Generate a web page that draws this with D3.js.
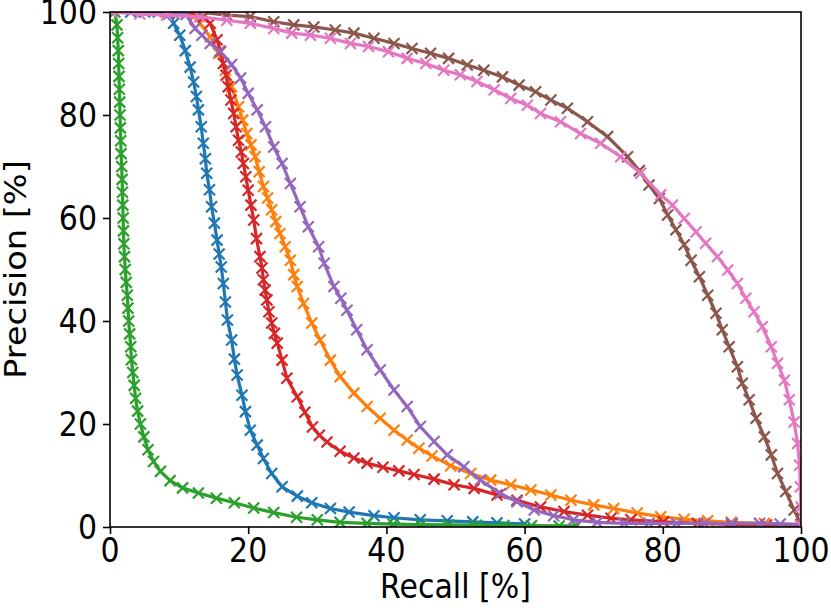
<!DOCTYPE html>
<html>
<head>
<meta charset="utf-8">
<script src="https://cdn.jsdelivr.net/npm/d3@7/dist/d3.min.js"></script>
<style>
  html, body { margin: 0; padding: 0; background: #fff; }
  svg { display: block; }
  text { font-family: "DejaVu Sans", sans-serif; fill: #000; }
</style>
</head>
<body>
<svg id="chart" width="831" height="608"></svg>
<script>
// ---- data: [recall %, precision %] ----
const xTicks = [0, 20, 40, 60, 80, 100];
const yTicks = [0, 20, 40, 60, 80, 100];
const xLabel = "Recall [%]";
const yLabel = "Precision [%]";

const seriesBlue = [[3,100],[5,100],[7,100],[8.5,99.6],[9.2,97.8],[10.1,95.5],[10.9,92.5],[11.6,89.3],[12.1,86.4],[12.5,83.6],[12.8,81],[13.2,77.7],[13.5,74.5],[13.8,71.5],[14.0,68.7],[14.4,65.5],[14.7,62.2],[15.1,59],[15.5,55.7],[15.8,53],[16.1,50.5],[16.4,47.3],[16.7,43.7],[17.0,40.2],[17.6,36.3],[18.0,32.6],[18.4,29.5],[19.1,25.6],[19.6,22.4],[20.3,18.8],[21.3,15.9],[22.2,13.3],[23.4,10.4],[24.9,7.8],[27.1,6.0],[29.2,4.7],[31.9,3.6],[34.6,2.9],[38.2,2.2],[41.1,1.8],[44.9,1.4],[48.8,1.2],[52.5,1.0],[56,0.8],[60,0.6]];
const seriesOrange = [[8,100],[10.5,99.9],[12.2,99.2],[13,97.8],[14.5,95.2],[15.7,92],[16.7,88.7],[17.6,85.5],[18.6,81.6],[19.2,79],[19.8,76.4],[20.4,74.2],[21,71.9],[21.6,69],[22.2,66.1],[22.8,63.9],[23.4,61.6],[24.0,59.3],[24.6,57],[25.35,54.4],[26.1,51.8],[26.6,49],[27.1,46.7],[28,43.4],[29.2,39.6],[30.4,36.3],[31.9,32.4],[33.3,29.2],[35.3,26],[37.2,23.4],[39.1,21.1],[41.1,18.8],[43,16.9],[44.7,15.3],[46.6,13.8],[49.3,11.9],[52.2,10.4],[55.1,9.1],[58,8.2],[60.9,7.2],[63.8,6.2],[66.7,5.2],[70,4.3],[72.9,3.6],[76.3,2.7],[79.7,2.0],[83.1,1.5],[86.5,1.2],[89.9,0.9],[94.7,0.7],[100,0.4]];
const seriesGreen = [[0.7,100],[1.0,97.5],[1.1,95],[1.2,92.5],[1.25,90],[1.3,87.5],[1.35,85],[1.4,82.5],[1.45,80],[1.5,77.5],[1.55,75],[1.6,72.5],[1.7,70],[1.75,67.5],[1.8,65],[1.85,62.5],[1.9,60],[1.95,57.5],[2.0,55],[2.1,52.5],[2.2,50],[2.35,47.5],[2.5,45],[2.6,42.5],[2.7,40],[2.85,37.5],[3.0,35],[3.1,32.5],[3.3,30],[3.5,27.5],[3.7,25],[4.0,22.5],[4.4,20],[4.9,17.5],[5.5,15],[6.3,12.7],[7.3,10.8],[8.7,9],[10.5,7.6],[12.8,6.6],[15.4,5.6],[18,4.7],[20.8,3.7],[23.7,2.8],[27,1.9],[30,1.4],[33.3,0.9],[37.2,0.7],[41,0.55],[45,0.45],[49,0.4],[53,0.35],[57,0.3],[61,0.25],[65,0.2],[67.5,0.2]];
const seriesRed = [[10,100],[12,99.8],[13.5,99],[14.5,97.8],[15.5,94.6],[16.0,92.3],[16.4,90],[16.8,87.7],[17.1,85.5],[17.5,82.9],[17.9,80.3],[18.25,77.7],[18.6,75.1],[19.0,72.8],[19.3,70.6],[19.65,68],[20.0,65.4],[20.4,62.5],[20.8,59.6],[21.2,56],[21.7,52.5],[22.0,50.3],[22.2,48],[22.45,46],[22.7,44.1],[23.0,41.8],[23.4,39.6],[23.8,37.6],[24.2,35.7],[24.9,32.4],[25.6,28.9],[27.1,25.3],[28.2,22.3],[29.3,19.4],[30.3,17.8],[31.4,16.5],[33.3,14.7],[35.3,13.4],[37.2,12.4],[39.5,11.6],[41.8,10.9],[44,10.2],[46.9,9.3],[49.8,8.2],[52.7,7.5],[56,6.2],[58.9,5.2],[62.3,3.9],[65.7,3.0],[69.1,2.3],[72.5,1.7],[75.4,1.4],[80.1,1.0],[85,0.7],[90,0.5],[95,0.4],[100,0.3]];
const seriesPurple = [[9,100],[11,99.5],[12.3,96.8],[13.3,95.5],[14.5,93.9],[15.9,92.4],[17.6,89.8],[18.9,87.2],[20,84.2],[21.3,81],[22.5,77.7],[23.7,73.8],[24.9,70.6],[26.1,66.7],[27.5,62.2],[28.7,58.3],[30.2,54.4],[31.0,51.2],[32.4,46.7],[33.4,44.4],[34.3,42.1],[35.7,38.3],[37.2,34.4],[39.1,30.5],[41.1,26.6],[43,23.4],[44.9,19.5],[46.9,16.6],[48.8,14.0],[51.2,11.7],[53.6,9.1],[56.5,6.5],[58.9,4.9],[61.4,3.3],[64.2,2.2],[67.1,1.4],[70.5,0.9],[74.4,0.7],[78,0.7],[82,0.7],[86,0.7],[90,0.7],[94,0.7],[97,0.6],[100,0.5]];
const seriesBrown = [[13,100],[16.9,99.4],[20.3,99.1],[23.7,98.1],[26.6,97.5],[29.5,97.1],[32.6,96.5],[35.3,95.9],[38.2,94.9],[41.1,93.9],[43.7,92.9],[46.4,92],[49,91],[51.7,89.7],[54.1,88.7],[56.8,87.4],[59.2,85.8],[61.6,84.5],[63.8,82.9],[66.2,81.3],[69.1,78.7],[72,75.8],[74.9,71.9],[76.6,69.2],[78.0,66.4],[79.5,63.8],[80.7,60.6],[81.9,57.7],[83.1,54.8],[84.1,51.8],[85.3,48.6],[86.5,45],[87.7,41.5],[88.6,38.3],[89.6,35],[90.8,31.1],[91.5,27.9],[92.5,24.7],[93.5,21.1],[94.7,17.5],[95.7,14],[96.6,10.4],[97.8,6.9],[99,3.3],[100,0.5]];
const seriesPink = [[0.3,100],[4.3,99.6],[8.2,99.4],[13,99.1],[16.9,98.4],[20.3,97.8],[23.7,96.8],[26.3,95.9],[29,95.5],[31.9,94.9],[34.8,93.9],[37.4,93.3],[40.3,92.3],[43,91],[45.7,90],[48.3,88.7],[50.7,87.8],[53.1,86.5],[55.6,84.9],[58,83.2],[60.4,81.9],[62.3,80.3],[65.2,78.7],[68.1,76.4],[71,74.5],[73.9,71.9],[76.8,68.7],[79.7,64.5],[81.4,62.5],[83.1,59.9],[84.8,57.3],[86.2,55.1],[87.9,52.5],[89.4,49.9],[90.8,47.3],[92,44.4],[93.2,41.8],[94.4,38.9],[95.7,35],[96.6,31.8],[97.6,28.5],[98.3,24.7],[99,20.4],[99.5,16.2],[99.8,12],[99.9,7.8],[100,3.9],[100,0.3]];

const seriesList = [seriesBlue, seriesOrange, seriesGreen, seriesRed, seriesPurple, seriesBrown, seriesPink];
const colors = ["#1f77b4", "#ff7f0e", "#2ca02c", "#d62728", "#9467bd", "#8c564b", "#e377c2"];

(function () {
  const svg = d3.select("#chart");
  const pL = 110, pR = 801, pT = 12, pB = 527;
  const fs = 30, vs = 1.12; // font size, vertical stretch of the reference picture
  const x = d3.scaleLinear().domain([0, 100]).range([pL, pR]);
  const y = d3.scaleLinear().domain([0, 100]).range([pB, pT]);

  svg.append("defs").append("clipPath").attr("id", "plotclip")
    .append("rect").attr("x", pL).attr("y", pT).attr("width", pR - pL).attr("height", pB - pT);

  const plot = svg.append("g").attr("clip-path", "url(#plotclip)");
  const line = d3.line().x(d => x(d[0])).y(d => y(d[1]));
  const ms = 5.5;

  seriesList.forEach((s, i) => {
    const g = plot.append("g");
    g.append("path").datum(s).attr("d", line)
      .attr("fill", "none").attr("stroke", colors[i]).attr("stroke-width", 3.2)
      .attr("stroke-linejoin", "round").attr("stroke-linecap", "square");
    g.selectAll("path.m").data(s).enter().append("path").attr("class", "m")
      .attr("d", d => {
        const cx = x(d[0]), cy = y(d[1]);
        return `M${cx - ms},${cy - ms}L${cx + ms},${cy + ms}M${cx - ms},${cy + ms}L${cx + ms},${cy - ms}`;
      })
      .attr("stroke", colors[i]).attr("stroke-width", 2.2).attr("fill", "none");
  });

  const xAxis = d3.axisBottom(x).tickValues(xTicks).tickSize(7).tickFormat("");
  const yAxis = d3.axisLeft(y).tickValues(yTicks).tickSize(7).tickFormat("");

  const gx = svg.append("g").attr("transform", `translate(0,${pB})`).call(xAxis);
  const gy = svg.append("g").attr("transform", `translate(${pL},0)`).call(yAxis);
  [gx, gy].forEach(g => {
    g.select(".domain").remove();
    g.selectAll(".tick line").attr("stroke", "#000").attr("stroke-width", 1.6);
    g.selectAll(".tick text").remove();
  });

  svg.append("g").selectAll("text").data(xTicks).enter().append("text")
    .attr("transform", d => `translate(${x(d)},562) scale(1,${vs})`)
    .attr("text-anchor", "middle").attr("font-size", fs).text(d => d);
  svg.append("g").selectAll("text").data(yTicks).enter().append("text")
    .attr("transform", d => `translate(97,${y(d) + 0.364 * fs * vs}) scale(1,${vs})`)
    .attr("text-anchor", "end").attr("font-size", fs).text(d => d);

  svg.append("rect").attr("x", pL).attr("y", pT).attr("width", pR - pL).attr("height", pB - pT)
    .attr("fill", "none").attr("stroke", "#000").attr("stroke-width", 1.6);

  svg.append("text").attr("transform", `translate(${(pL + pR) / 2},598) scale(1,${vs})`)
    .attr("text-anchor", "middle").attr("font-size", fs).text(xLabel);
  svg.append("text").attr("transform", `translate(26,${(pT + pB) / 2}) scale(1,${vs}) rotate(-90)`)
    .attr("text-anchor", "middle").attr("font-size", fs).text(yLabel);
})();
</script>
</body>
</html>
